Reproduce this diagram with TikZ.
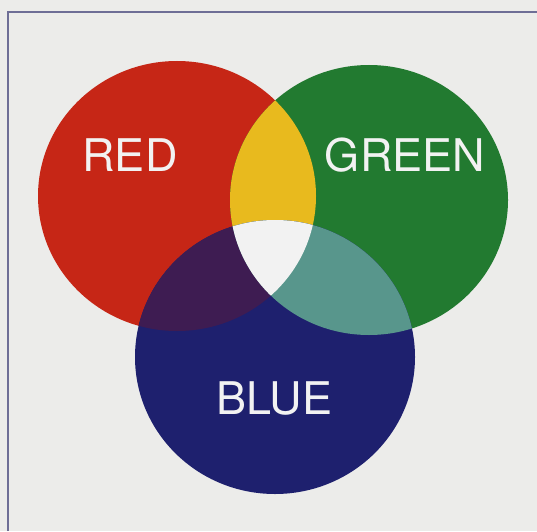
\documentclass[tikz,border=0pt]{standalone}
\usepackage{fontspec}
\newfontfamily\lblfont{TeX Gyre Heros}
\definecolor{bgc}{RGB}{236,236,234}
\definecolor{framec}{RGB}{110,110,150}
\definecolor{redc}{RGB}{198,38,22}
\definecolor{greenc}{RGB}{34,122,48}
\definecolor{bluec}{RGB}{30,32,110}
\definecolor{yellowc}{RGB}{232,186,30}
\definecolor{purplec}{RGB}{62,28,82}
\definecolor{tealc}{RGB}{88,150,140}
\definecolor{whitec}{RGB}{242,242,242}
\definecolor{textc}{RGB}{242,242,242}
\begin{document}
\begin{tikzpicture}[x=1pt,y=1pt,
  lbl/.style={text=textc,font=\lblfont\fontsize{45}{45}\selectfont,anchor=base,inner sep=0pt}]
\useasboundingbox (0,0) rectangle (537,531);
\fill[bgc] (0,0) rectangle (537,531);
% frame
\coordinate (fb) at (8,0);
\coordinate (ftl) at (8,519);
\coordinate (ftr) at (537,519);
\draw[framec,line width=1.5pt] (fb) -- (ftl) -- (ftr);
% circles
\def\redpath{(177,335) ellipse [x radius=139,y radius=135]}
\def\greenpath{(369,331) ellipse [x radius=139,y radius=135]}
\def\bluepath{(275,174) ellipse [x radius=140,y radius=137]}
\fill[redc] \redpath;
\fill[greenc] \greenpath;
\fill[bluec] \bluepath;
\begin{scope}
  \clip \redpath;
  \fill[yellowc] \greenpath;
  \fill[purplec] \bluepath;
\end{scope}
\begin{scope}
  \clip \greenpath;
  \fill[tealc] \bluepath;
\end{scope}
\begin{scope}
  \clip \redpath;
  \clip \greenpath;
  \fill[whitec] \bluepath;
\end{scope}
% labels
\node[lbl] (red) at (130,360) {RED};
\node[lbl] (green) at (405,360) {GREEN};
\node[lbl] (blue) at (274,117) {BLUE};
\end{tikzpicture}
\end{document}
